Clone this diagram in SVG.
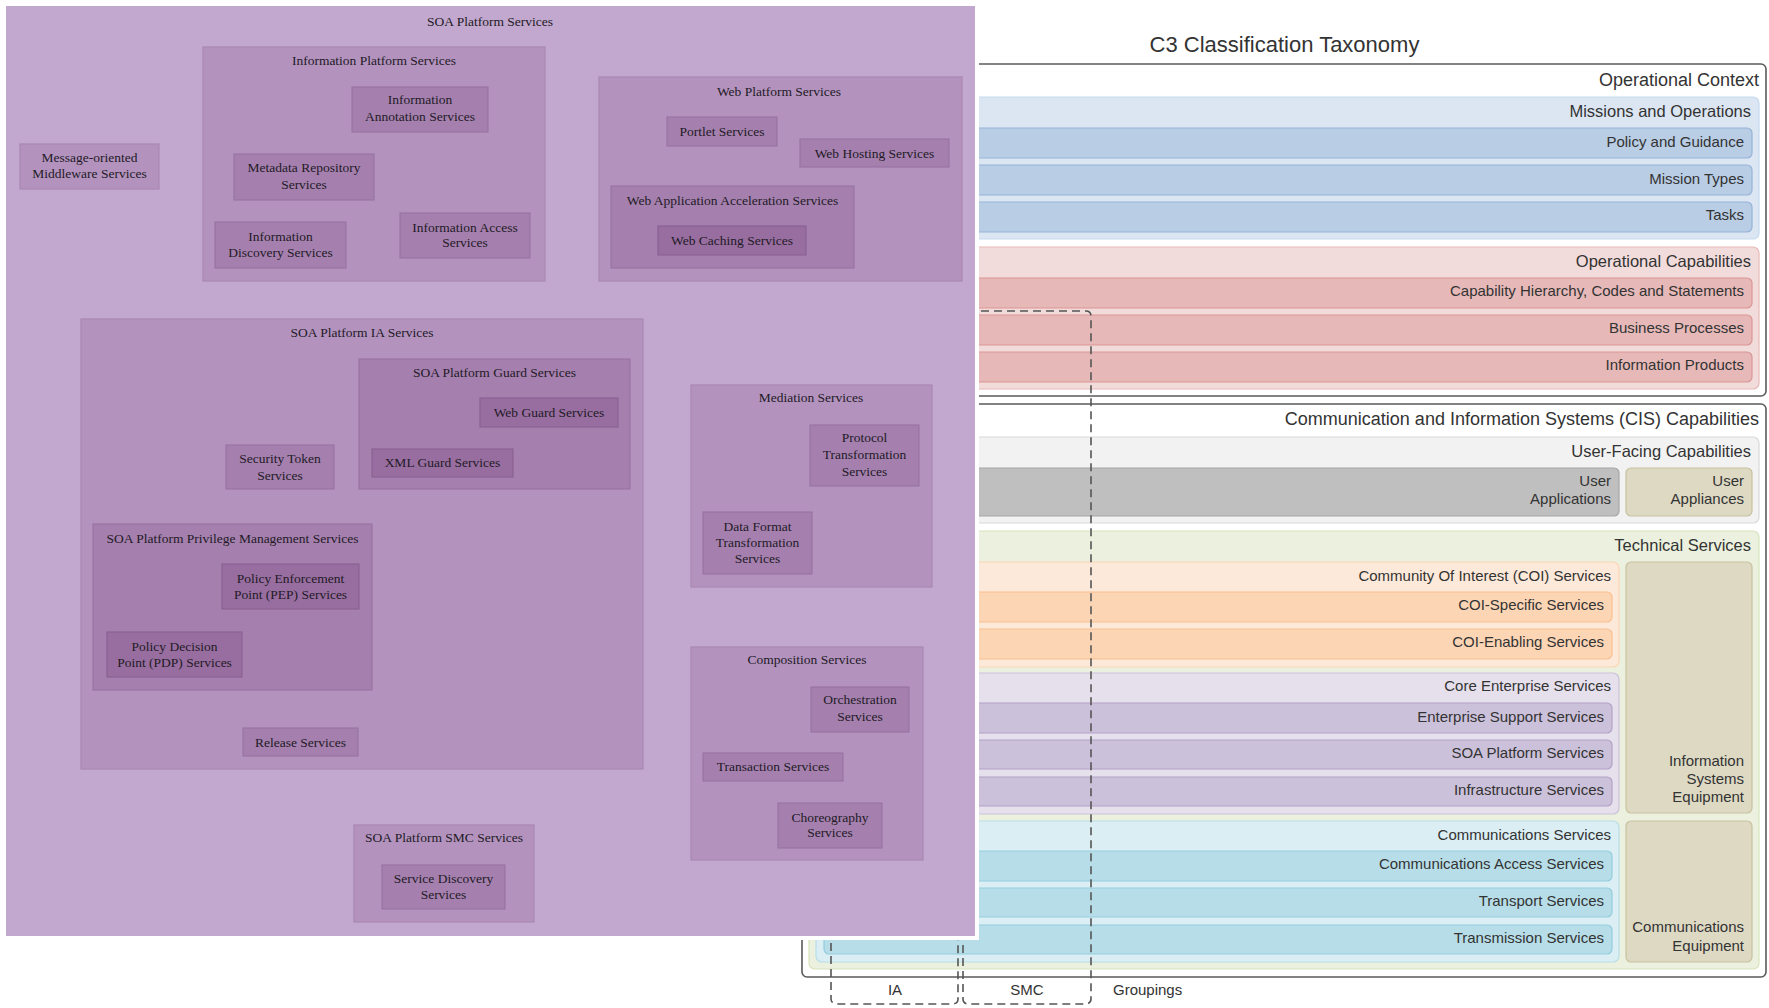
<svg xmlns="http://www.w3.org/2000/svg" width="1769" height="1008" viewBox="0 0 1769 1008">
<style>
.bg{fill:#ffffff}
.l1{fill:#c2a8ce}
.l2{fill:#b393be;stroke:#a887b3;stroke-width:1.2}
.l3{fill:#a580ae;stroke:#9874a2;stroke-width:1.2}
.l4{fill:#986ea0;stroke:#8a6193;stroke-width:1.2}
.st{font-family:"Liberation Serif","Times New Roman",serif;font-size:13.5px;fill:#231a26;text-anchor:middle;transform:translateY(-1px)}
.tx{font-family:"Liberation Sans",Arial,sans-serif;fill:#333333;text-anchor:end;transform:translateY(-1.2px)}
.f18{font-size:18px}
.f16{font-size:16.5px}
.f15{font-size:15px}
.outer{fill:#ffffff;stroke:#5a5a5a;stroke-width:1.6}
.mis{fill:#dce6f2;stroke:#c6d9f0;stroke-width:1.2}
.bluer{fill:#b9cde5;stroke:#95b3d7;stroke-width:1.2}
.opc{fill:#f2dcdb;stroke:#e6b9b8;stroke-width:1.2}
.redr{fill:#e6b9b8;stroke:#d99694;stroke-width:1.2}
.ufc{fill:#f2f2f2;stroke:#d9d9d9;stroke-width:1.2}
.gray{fill:#bfbfbf;stroke:#a6a6a6;stroke-width:1.2}
.tan{fill:#ddd9c3;stroke:#c9c29f;stroke-width:1.2}
.tech{fill:#ebf1de;stroke:#d7e4bd;stroke-width:1.2}
.coi{fill:#fde9d9;stroke:#fcd5b5;stroke-width:1.2}
.orr{fill:#fcd5b5;stroke:#fac090;stroke-width:1.2}
.core{fill:#e5e0ec;stroke:#ccc1da;stroke-width:1.2}
.pur{fill:#ccc1da;stroke:#b3a2c7;stroke-width:1.2}
.com{fill:#dbeef4;stroke:#b7dee8;stroke-width:1.2}
.cyr{fill:#b7dee8;stroke:#93cddd;stroke-width:1.2}
.dash{fill:none;stroke:#555555;stroke-width:1.6;stroke-dasharray:8 5}
</style>
<rect class="bg" x="0" y="0" width="1769" height="1008"/>

<g id="taxonomy">
  <text class="tx" x="1284.5" y="53" style="font-size:22px;text-anchor:middle">C3 Classification Taxonomy</text>
  <g id="operational-context">
    <rect class="outer" x="802" y="64" width="964" height="332" rx="5"/>
    <text class="tx f18" x="1759" y="87">Operational Context</text>
    <g id="missions-and-operations">
      <rect class="mis" x="809" y="97" width="950" height="142" rx="6"/>
      <text class="tx f16" x="1751" y="118">Missions and Operations</text>
      <g id="policy-and-guidance"><rect class="bluer" x="816" y="128" width="936" height="30" rx="5"/><text class="tx f15" x="1744" y="148.5">Policy and Guidance</text></g>
      <g id="mission-types"><rect class="bluer" x="816" y="165" width="936" height="30" rx="5"/><text class="tx f15" x="1744" y="185">Mission Types</text></g>
      <g id="tasks"><rect class="bluer" x="816" y="202" width="936" height="30" rx="5"/><text class="tx f15" x="1744" y="221.5">Tasks</text></g>
    </g>
    <g id="operational-capabilities">
      <rect class="opc" x="809" y="247" width="950" height="142" rx="6"/>
      <text class="tx f16" x="1751" y="268">Operational Capabilities</text>
      <g id="capability-hierarchy"><rect class="redr" x="816" y="278" width="936" height="30" rx="5"/><text class="tx f15" x="1744" y="297.5">Capability Hierarchy, Codes and Statements</text></g>
      <g id="business-processes"><rect class="redr" x="816" y="315" width="936" height="30" rx="5"/><text class="tx f15" x="1744" y="334.5">Business Processes</text></g>
      <g id="information-products"><rect class="redr" x="816" y="352" width="936" height="30" rx="5"/><text class="tx f15" x="1744" y="371.5">Information Products</text></g>
    </g>
  </g>
  <g id="cis-capabilities">
    <rect class="outer" x="802" y="404" width="964" height="573" rx="5"/>
    <text class="tx f18" x="1759" y="426">Communication and Information Systems (CIS) Capabilities</text>
    <g id="user-facing-capabilities">
      <rect class="ufc" x="809" y="437" width="950" height="86" rx="6"/>
      <text class="tx f16" x="1751" y="458">User-Facing Capabilities</text>
      <g id="user-applications"><rect class="gray" x="816" y="468" width="803" height="48" rx="5"/><text class="tx f15" x="1611" y="487.5">User</text><text class="tx f15" x="1611" y="505.5">Applications</text></g>
      <g id="user-appliances"><rect class="tan" x="1626" y="468" width="126" height="48" rx="5"/><text class="tx f15" x="1744" y="487.5">User</text><text class="tx f15" x="1744" y="505.5">Appliances</text></g>
    </g>
    <g id="technical-services">
      <rect class="tech" x="809" y="531" width="950" height="438" rx="6"/>
      <text class="tx f16" x="1751" y="552">Technical Services</text>
      <g id="coi-services">
        <rect class="coi" x="816" y="562" width="803" height="105" rx="6"/>
        <text class="tx f15" x="1611" y="582.5">Community Of Interest (COI) Services</text>
        <g id="coi-specific"><rect class="orr" x="824" y="592" width="788" height="30" rx="5"/><text class="tx f15" x="1604" y="611.5">COI-Specific Services</text></g>
        <g id="coi-enabling"><rect class="orr" x="824" y="629" width="788" height="30" rx="5"/><text class="tx f15" x="1604" y="648.5">COI-Enabling Services</text></g>
      </g>
      <g id="core-enterprise-services">
        <rect class="core" x="816" y="673" width="803" height="141" rx="6"/>
        <text class="tx f15" x="1611" y="692.5">Core Enterprise Services</text>
        <g id="enterprise-support"><rect class="pur" x="824" y="703" width="788" height="30" rx="5"/><text class="tx f15" x="1604" y="723.5">Enterprise Support Services</text></g>
        <g id="soa-platform-row"><rect class="pur" x="824" y="740" width="788" height="29" rx="5"/><text class="tx f15" x="1604" y="759.5">SOA Platform Services</text></g>
        <g id="infrastructure-services"><rect class="pur" x="824" y="777" width="788" height="29" rx="5"/><text class="tx f15" x="1604" y="796.5">Infrastructure Services</text></g>
      </g>
      <g id="communications-services">
        <rect class="com" x="816" y="821" width="803" height="141" rx="6"/>
        <text class="tx f15" x="1611" y="841.5">Communications Services</text>
        <g id="communications-access"><rect class="cyr" x="824" y="851" width="788" height="30" rx="5"/><text class="tx f15" x="1604" y="870.5">Communications Access Services</text></g>
        <g id="transport-services"><rect class="cyr" x="824" y="888" width="788" height="29" rx="5"/><text class="tx f15" x="1604" y="907.5">Transport Services</text></g>
        <g id="transmission-services"><rect class="cyr" x="824" y="925" width="788" height="29" rx="5"/><text class="tx f15" x="1604" y="944.5">Transmission Services</text></g>
      </g>
      <g id="information-systems-equipment"><rect class="tan" x="1626" y="562" width="126" height="251" rx="5"/><text class="tx f15" x="1744" y="767.5">Information</text><text class="tx f15" x="1744" y="785.5">Systems</text><text class="tx f15" x="1744" y="803.5">Equipment</text></g>
      <g id="communications-equipment"><rect class="tan" x="1626" y="821" width="126" height="141" rx="5"/><text class="tx f15" x="1744" y="933.5">Communications</text><text class="tx f15" x="1744" y="952.5">Equipment</text></g>
    </g>
  </g>
</g>

<g id="connectors">
  <rect id="ia-grouping" class="dash" x="831" y="311" width="127" height="693" rx="5"/>
  <rect id="smc-grouping" class="dash" x="963" y="311" width="128" height="693" rx="5"/>
  <text class="tx f15" x="895" y="996" style="text-anchor:middle">IA</text>
  <text class="tx f15" x="1027" y="996" style="text-anchor:middle">SMC</text>
  <text class="tx f15" x="1113" y="996" style="text-anchor:start">Groupings</text>
</g>

<g id="soa-platform-services">
  <rect class="bg" x="2" y="2" width="977" height="938"/>
  <rect class="l1" x="6" y="6" width="969" height="930"/>
  <text class="st" x="490" y="26.5">SOA Platform Services</text>

  <g id="message-oriented-middleware">
    <rect class="l2" x="20" y="144" width="139" height="45"/>
    <text class="st" x="89.5" y="162.5">Message-oriented</text>
    <text class="st" x="89.5" y="178.5">Middleware Services</text>
  </g>

  <g id="information-platform-services">
    <rect class="l2" x="203" y="47" width="342" height="234"/>
    <text class="st" x="374" y="65.5">Information Platform Services</text>
    <g id="information-annotation"><rect class="l3" x="352" y="87" width="136" height="45"/><text class="st" x="420" y="104.5">Information</text><text class="st" x="420" y="121.5">Annotation Services</text></g>
    <g id="metadata-repository"><rect class="l3" x="234" y="154" width="140" height="46"/><text class="st" x="304" y="172.5">Metadata Repository</text><text class="st" x="304" y="189.5">Services</text></g>
    <g id="information-discovery"><rect class="l3" x="215" y="222" width="131" height="46"/><text class="st" x="280.5" y="241.5">Information</text><text class="st" x="280.5" y="257.5">Discovery Services</text></g>
    <g id="information-access"><rect class="l3" x="400" y="213" width="130" height="45"/><text class="st" x="465" y="232.5">Information Access</text><text class="st" x="465" y="247.5">Services</text></g>
  </g>

  <g id="web-platform-services">
    <rect class="l2" x="599" y="77" width="363" height="204"/>
    <text class="st" x="779" y="96.5">Web Platform Services</text>
    <g id="portlet-services"><rect class="l3" x="667" y="117" width="110" height="29"/><text class="st" x="722" y="136.5">Portlet Services</text></g>
    <g id="web-hosting-services"><rect class="l3" x="800" y="139" width="149" height="28"/><text class="st" x="874.5" y="158.5">Web Hosting Services</text></g>
    <g id="web-application-acceleration">
      <rect class="l3" x="611" y="186" width="243" height="82"/>
      <text class="st" x="732.5" y="205.5">Web Application Acceleration Services</text>
      <g id="web-caching-services"><rect class="l4" x="658" y="226" width="148" height="29"/><text class="st" x="732" y="245.5">Web Caching Services</text></g>
    </g>
  </g>

  <g id="soa-platform-ia-services">
    <rect class="l2" x="81" y="319" width="562" height="450"/>
    <text class="st" x="362" y="337.5">SOA Platform IA Services</text>
    <g id="soa-platform-guard-services">
      <rect class="l3" x="359" y="359" width="271" height="130"/>
      <text class="st" x="494.5" y="377.5">SOA Platform Guard Services</text>
      <g id="web-guard-services"><rect class="l4" x="480" y="398" width="138" height="29"/><text class="st" x="549" y="417.5">Web Guard Services</text></g>
      <g id="xml-guard-services"><rect class="l4" x="372" y="449" width="141" height="28"/><text class="st" x="442.5" y="467.5">XML Guard Services</text></g>
    </g>
    <g id="security-token-services"><rect class="l3" x="226" y="445" width="108" height="44"/><text class="st" x="280" y="463.5">Security Token</text><text class="st" x="280" y="480.5">Services</text></g>
    <g id="privilege-management-services">
      <rect class="l3" x="93" y="524" width="279" height="166"/>
      <text class="st" x="232.5" y="543.5">SOA Platform Privilege Management Services</text>
      <g id="pep-services"><rect class="l4" x="222" y="564" width="137" height="45"/><text class="st" x="290.5" y="583.5">Policy Enforcement</text><text class="st" x="290.5" y="599.5">Point (PEP) Services</text></g>
      <g id="pdp-services"><rect class="l4" x="107" y="632" width="135" height="45"/><text class="st" x="174.5" y="651.5">Policy Decision</text><text class="st" x="174.5" y="667.5">Point (PDP) Services</text></g>
    </g>
    <g id="release-services"><rect class="l3" x="243" y="728" width="115" height="28"/><text class="st" x="300.5" y="747.5">Release Services</text></g>
  </g>

  <g id="mediation-services">
    <rect class="l2" x="691" y="385" width="241" height="202"/>
    <text class="st" x="811" y="402.5">Mediation Services</text>
    <g id="protocol-transformation"><rect class="l3" x="810" y="425" width="109" height="61"/><text class="st" x="864.5" y="443">Protocol</text><text class="st" x="864.5" y="460">Transformation</text><text class="st" x="864.5" y="477">Services</text></g>
    <g id="data-format-transformation"><rect class="l3" x="703" y="512" width="109" height="62"/><text class="st" x="757.5" y="531.5">Data Format</text><text class="st" x="757.5" y="547.5">Transformation</text><text class="st" x="757.5" y="563.5">Services</text></g>
  </g>

  <g id="composition-services">
    <rect class="l2" x="691" y="647" width="232" height="213"/>
    <text class="st" x="807" y="664.5">Composition Services</text>
    <g id="orchestration-services"><rect class="l3" x="811" y="687" width="98" height="45"/><text class="st" x="860" y="704.5">Orchestration</text><text class="st" x="860" y="721.5">Services</text></g>
    <g id="transaction-services"><rect class="l3" x="703" y="753" width="140" height="28"/><text class="st" x="773" y="771.5">Transaction Services</text></g>
    <g id="choreography-services"><rect class="l3" x="778" y="803" width="104" height="45"/><text class="st" x="830" y="822.5">Choreography</text><text class="st" x="830" y="837.5">Services</text></g>
  </g>

  <g id="soa-platform-smc-services">
    <rect class="l2" x="354" y="825" width="180" height="97"/>
    <text class="st" x="444" y="842.5">SOA Platform SMC Services</text>
    <g id="service-discovery-services"><rect class="l3" x="382" y="865" width="123" height="44"/><text class="st" x="443.5" y="883.5">Service Discovery</text><text class="st" x="443.5" y="899.5">Services</text></g>
  </g>
</g>
</svg>
